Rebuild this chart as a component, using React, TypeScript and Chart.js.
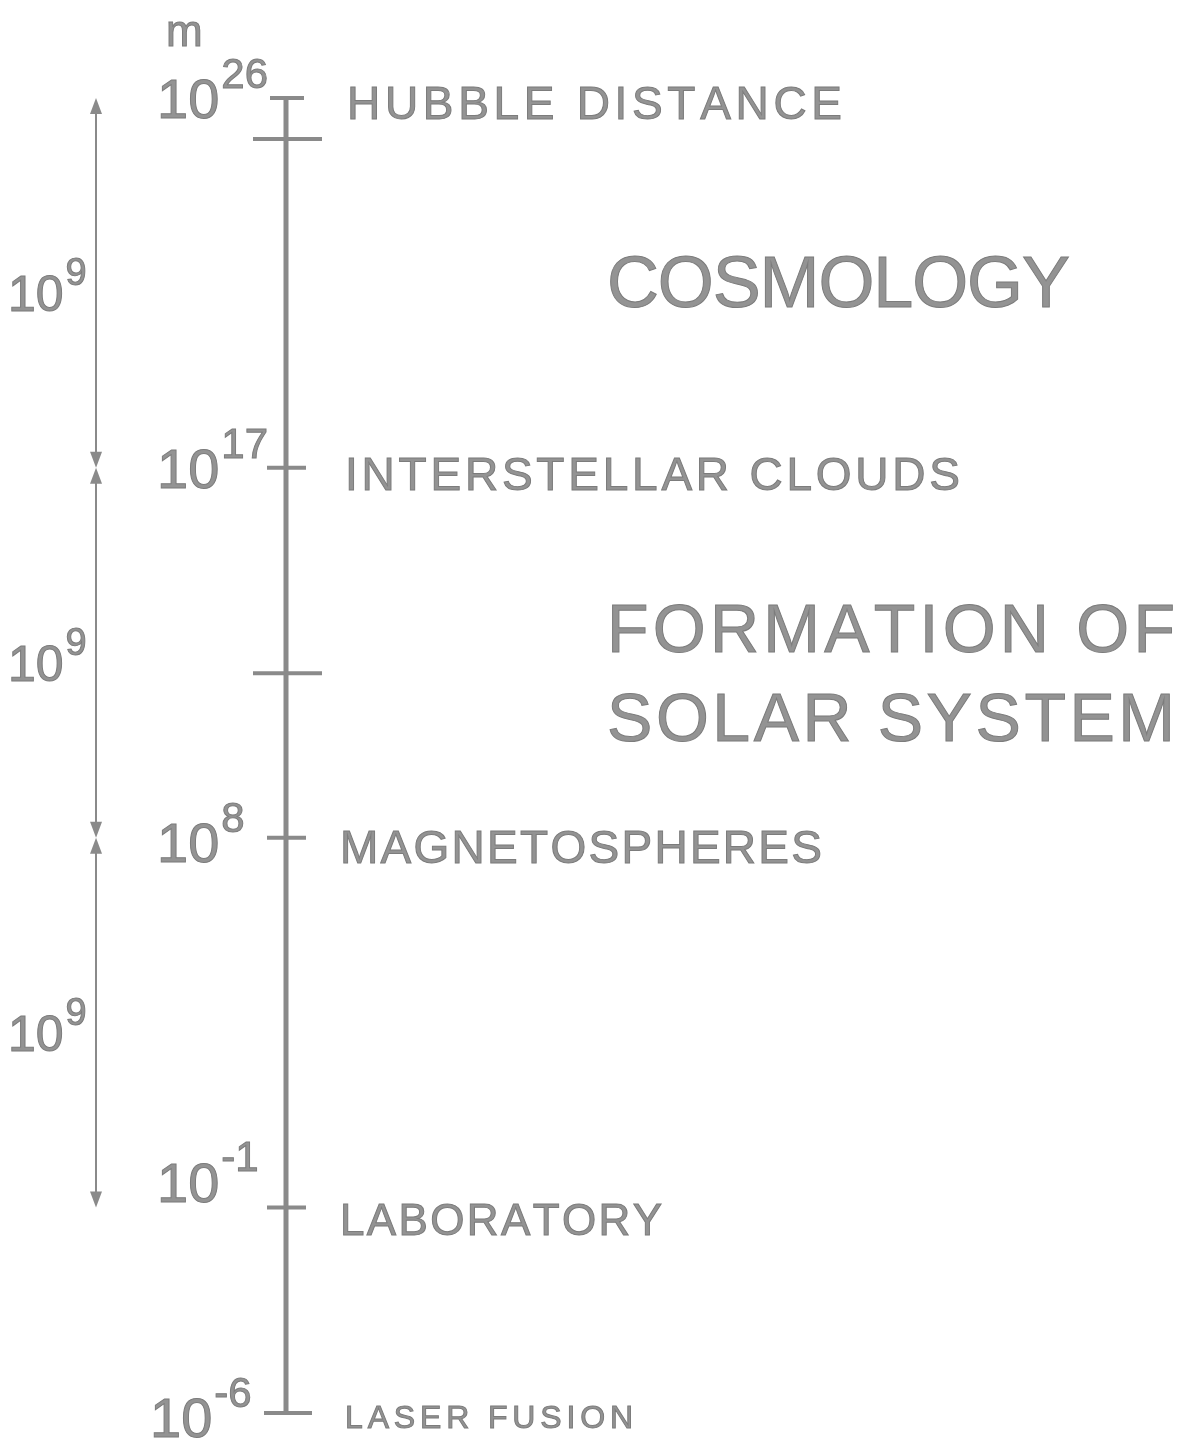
import React, { useEffect, useRef } from 'react';
import { Chart, registerables } from 'chart.js';

Chart.register(...registerables);

// ---------------- data ----------------
const levelExponents = [26, 17, 8, -1, -6];
const levelNames = ['HUBBLE DISTANCE', 'INTERSTELLAR CLOUDS', 'MAGNETOSPHERES', 'LABORATORY', 'LASER FUSION'];
const dividerExponents = [25, 12];
const spanFrom = [26, 17, 8];
const spanTo = [17, 8, -1];
const spanFactorExponents = ['9', '9', '9'];
const regionLines = ['COSMOLOGY', 'FORMATION OF', 'SOLAR SYSTEM'];
const unitLabel = 'm';

// ---------------- layout / style ----------------
const W = 1179;
const H = 1440;
const AXIS_X = 286;
const ARROW_X = 96;
const GRAY = '#8a8a8a';
const TEXT = '#939393';
const TEXT_EDGE = '#7c7c7c';
const FONT = '"Liberation Sans", Arial, Helvetica, sans-serif';
const levelLabelDy = [0, 0, 4, -26, 4];
const levelLabelX = [157, 157, 157, 157, 150];
const nameX = [347, 345, 340, 340, 345];
const nameStyle = [
  { size: 46, width: 495, dy: 5 },
  { size: 46, width: 615, dy: 6 },
  { size: 46, width: 482, dy: 9 },
  { size: 44, width: 322, dy: 12 },
  { size: 32, width: 288, dy: 4 },
];
const regionStyle = [
  { x: 607, y: 281, size: 72, width: 463 },
  { x: 607, y: 628, size: 68, width: 568 },
  { x: 607, y: 717, size: 68, width: 568 },
];

function drawSpaced(ctx: CanvasRenderingContext2D, text: string, x: number, cy: number, size: number, width: number) {
  ctx.font = `${size}px ${FONT}`;
  const chars = text.split('');
  const ws = chars.map((c) => ctx.measureText(c).width);
  const natural = ws.reduce((a, b) => a + b, 0);
  const sp = chars.length > 1 ? (width - natural) / (chars.length - 1) : 0;
  const base = cy + 0.358 * size;
  let cx = x;
  chars.forEach((c, i) => {
    ctx.fillText(c, cx, base);
    ctx.strokeText(c, cx, base);
    cx += ws[i] + sp;
  });
}

function drawPower(ctx: CanvasRenderingContext2D, x: number, cy: number, exp: string, baseSize: number, expSize: number) {
  ctx.font = `${baseSize}px ${FONT}`;
  const base = cy + 0.358 * baseSize;
  ctx.fillText('10', x, base);
  ctx.strokeText('10', x, base);
  const bw = ctx.measureText('10').width;
  const top = cy - 0.358 * baseSize;
  ctx.font = `${expSize}px ${FONT}`;
  ctx.fillText(exp, x + bw + 2, top + 10);
  ctx.strokeText(exp, x + bw + 2, top + 10);
}

function arrowHead(ctx: CanvasRenderingContext2D, x: number, tipY: number, dir: number) {
  const len = 16;
  const hw = 6;
  ctx.beginPath();
  ctx.moveTo(x, tipY);
  ctx.lineTo(x - hw, tipY + dir * len);
  ctx.lineTo(x + hw, tipY + dir * len);
  ctx.closePath();
  ctx.fill();
}

const decorPlugin = {
  id: 'decor',
  afterDatasetsDraw(chart: any) {
    const ctx: CanvasRenderingContext2D = chart.ctx;
    const y = chart.scales.y;
    ctx.save();
    ctx.strokeStyle = GRAY;
    ctx.fillStyle = GRAY;
    ctx.lineCap = 'butt';

    // level ticks
    ctx.lineWidth = 4;
    levelExponents.forEach((e, i) => {
      const py = y.getPixelForValue(e);
      ctx.beginPath();
      if (i === 0) {
        ctx.moveTo(AXIS_X - 16, py);
        ctx.lineTo(AXIS_X + 18, py);
      } else if (i === levelExponents.length - 1) {
        ctx.moveTo(AXIS_X - 22, py);
        ctx.lineTo(AXIS_X + 26, py);
      } else {
        ctx.moveTo(AXIS_X - 19, py);
        ctx.lineTo(AXIS_X + 20, py);
      }
      ctx.stroke();
    });

    // divider ticks
    dividerExponents.forEach((e) => {
      const py = y.getPixelForValue(e);
      ctx.beginPath();
      ctx.moveTo(AXIS_X - 33, py);
      ctx.lineTo(AXIS_X + 36, py);
      ctx.stroke();
    });

    // span arrows
    ctx.lineWidth = 2;
    spanFrom.forEach((a, i) => {
      const y1 = y.getPixelForValue(a);
      const y2 = y.getPixelForValue(spanTo[i]);
      ctx.beginPath();
      ctx.moveTo(ARROW_X, y1 + 4);
      ctx.lineTo(ARROW_X, y2 - 4);
      ctx.stroke();
      arrowHead(ctx, ARROW_X, y1, 1);
      arrowHead(ctx, ARROW_X, y2, -1);
    });

    // text
    ctx.fillStyle = TEXT;
    ctx.strokeStyle = TEXT_EDGE;
    ctx.lineWidth = 1;
    ctx.textBaseline = 'alphabetic';
    ctx.textAlign = 'left';

    levelExponents.forEach((e, i) => {
      const py = y.getPixelForValue(e);
      drawPower(ctx, levelLabelX[i], py + levelLabelDy[i], String(e), 56, 42);
      const st = nameStyle[i];
      drawSpaced(ctx, levelNames[i], nameX[i], py + st.dy, st.size, st.width);
    });

    spanFrom.forEach((a, i) => {
      const mid = (y.getPixelForValue(a) + y.getPixelForValue(spanTo[i])) / 2;
      drawPower(ctx, 8, mid + 10, spanFactorExponents[i], 50, 38);
    });

    regionLines.forEach((t, i) => {
      const r = regionStyle[i];
      drawSpaced(ctx, t, r.x, r.y, r.size, r.width);
    });

    ctx.font = `44px ${FONT}`;
    ctx.fillText(unitLabel, 166, 46);
    ctx.strokeText(unitLabel, 166, 46);

    ctx.restore();
  },
};

export default function App() {
  const ref = useRef<HTMLCanvasElement | null>(null);
  useEffect(() => {
    document.body.style.margin = '0';
    document.body.style.background = '#ffffff';
    const canvas = ref.current;
    if (!canvas) return;
    const chart = new Chart(canvas, {
      type: 'line',
      data: {
        datasets: [
          {
            data: levelExponents.map((e) => ({ x: AXIS_X, y: e })),
            borderColor: GRAY,
            borderWidth: 5,
            pointRadius: 0,
            tension: 0,
          },
        ],
      },
      options: {
        responsive: false,
        animation: false,
        layout: { padding: { top: 98, bottom: 27, left: 0, right: 0 } },
        scales: {
          x: { type: 'linear', min: 0, max: W, display: false },
          y: { type: 'linear', min: -6, max: 26, display: false },
        },
        plugins: { legend: { display: false }, tooltip: { enabled: false } },
      },
      plugins: [decorPlugin],
    } as any);
    return () => chart.destroy();
  }, []);
  return <canvas ref={ref} width={W} height={H} style={{ display: 'block', width: W, height: H }} />;
}
